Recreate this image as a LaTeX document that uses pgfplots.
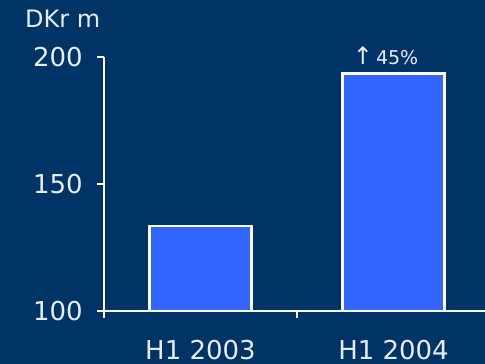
\documentclass[border=0pt]{standalone}
\usepackage{pgfplots}
\pgfplotsset{compat=1.18}
\usepackage{fontspec}
\setmainfont{DejaVu Sans}
\definecolor{bg}{HTML}{003366}
\definecolor{barblue}{HTML}{3366FF}
\definecolor{txt}{HTML}{E8EDF3}
\begin{document}
\begin{tikzpicture}[x=1pt,y=1pt]
\fill[bg] (0,0) rectangle (485,364);
\useasboundingbox (0,0) rectangle (485,364);
\node[anchor=base west, inner sep=0pt, text=txt, font=\fontsize{24}{28}\selectfont] at (25,336) {DKr m};
\begin{axis}[
  at={(104pt,53pt)}, anchor=south west,
  scale only axis, width=381pt, height=254pt,
  xmin=-0.5, xmax=1.474, ymin=100, ymax=200,
  axis x line=bottom, axis y line=left,
  axis line style={-, white, line width=2pt},
  ytick={100,150,200},
  xtick={0,1}, xticklabels={H1 2003,H1 2004},
  minor xtick={-0.5,0.5},
  tick align=outside,
  major tick length=7pt, minor tick length=7pt,
  tick style={white, line width=1.8pt},
  major x tick style={draw=none},
  /pgf/number format/assume math mode=true,
  every tick label/.append style={font=\fontsize{26}{30}\selectfont, text=txt},
  xticklabel style={anchor=base, inner sep=0pt, text depth=0pt, yshift=-41pt},
  yticklabel style={anchor=east, inner sep=0pt, xshift=-14pt},
  ybar, bar width=102pt,
]
\addplot[fill=barblue, draw=white, line width=2.5pt] coordinates {(0,133.5) (1,193.5)};
\coordinate (lbl) at (axis cs:1,200.4);
\end{axis}
\node[text=txt, font=\fontsize{19}{22}\selectfont, inner sep=0pt, xshift=-8pt] at (lbl) {{\fontsize{24}{26}\selectfont ↑}\,45\%};
\end{tikzpicture}
\end{document}
